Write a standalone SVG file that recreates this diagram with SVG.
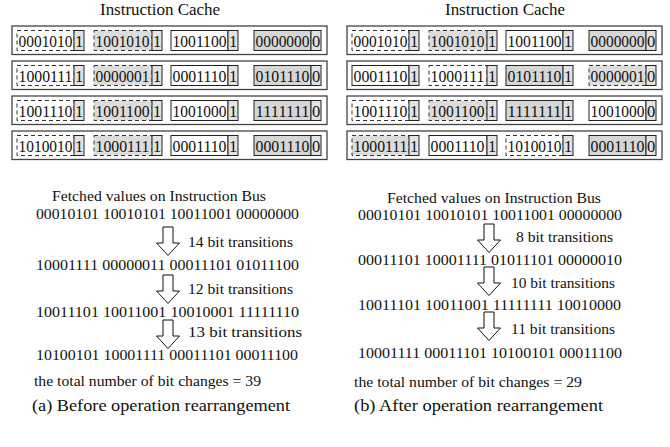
<svg xmlns="http://www.w3.org/2000/svg" width="670" height="447" viewBox="0 0 670 447">
<style>
text{font-family:"Liberation Serif","Times New Roman",serif;fill:#111}
.t{font-size:16px}
.b{font-size:16.5px}
.f{font-size:15px}
.c{font-size:17px}
.row{fill:#fff;stroke:#444;stroke-width:1.3}
.sw{fill:#fff;stroke:#222;stroke-width:1}
.sg{fill:#d6d6d6;stroke:#222;stroke-width:1}
.dw{fill:#fff;stroke:#333;stroke-width:1;stroke-dasharray:4,3}
.dg{fill:#dcdcdc;stroke:#333;stroke-width:1;stroke-dasharray:4,3}
.bit{fill:#e2e2e2;stroke:#222;stroke-width:1}
.arr{fill:#fff;stroke:#111;stroke-width:1}
</style>
<defs>
<path id="ar" d="M-5,0H5V16H11.5L0,28.5L-11.5,16H-5Z"/>
</defs>

<text class="t" x="100" y="15" textLength="120" lengthAdjust="spacingAndGlyphs">Instruction Cache</text>
<text class="t" x="445" y="15" textLength="120" lengthAdjust="spacingAndGlyphs">Instruction Cache</text>

<!-- LEFT PANEL -->
<g id="L-row1" transform="translate(0,26)">
<rect class="row" x="12" y="0" width="315" height="28.5"/>
<rect class="dw" x="17" y="4.5" width="57" height="20"/><rect class="bit" x="74" y="4.5" width="10" height="20"/>
<text class="b" x="18.5" y="20.5" textLength="54" lengthAdjust="spacingAndGlyphs">0001010</text><text class="b" x="75" y="20.5">1</text>
<rect class="dg" x="94" y="4.5" width="58" height="20"/><rect class="bit" x="152" y="4.5" width="10" height="20"/>
<text class="b" x="95.5" y="20.5" textLength="54" lengthAdjust="spacingAndGlyphs">1001010</text><text class="b" x="153" y="20.5">1</text>
<rect class="sw" x="171" y="4.5" width="57" height="20"/><rect class="bit" x="228" y="4.5" width="10" height="20"/>
<text class="b" x="172.5" y="20.5" textLength="54" lengthAdjust="spacingAndGlyphs">1001100</text><text class="b" x="229" y="20.5">1</text>
<rect class="sg" x="254" y="4.5" width="57" height="20"/><rect class="bit" x="311" y="4.5" width="10" height="20"/>
<text class="b" x="255.5" y="20.5" textLength="54" lengthAdjust="spacingAndGlyphs">0000000</text><text class="b" x="312" y="20.5">0</text>
</g>
<g id="L-row2" transform="translate(0,61)">
<rect class="row" x="12" y="0" width="315" height="28.5"/>
<rect class="dw" x="17" y="4.5" width="57" height="20"/><rect class="bit" x="74" y="4.5" width="10" height="20"/>
<text class="b" x="18.5" y="20.5" textLength="54" lengthAdjust="spacingAndGlyphs">1000111</text><text class="b" x="75" y="20.5">1</text>
<rect class="dg" x="94" y="4.5" width="58" height="20"/><rect class="bit" x="152" y="4.5" width="10" height="20"/>
<text class="b" x="95.5" y="20.5" textLength="54" lengthAdjust="spacingAndGlyphs">0000001</text><text class="b" x="153" y="20.5">1</text>
<rect class="sw" x="171" y="4.5" width="57" height="20"/><rect class="bit" x="228" y="4.5" width="10" height="20"/>
<text class="b" x="172.5" y="20.5" textLength="54" lengthAdjust="spacingAndGlyphs">0001110</text><text class="b" x="229" y="20.5">1</text>
<rect class="sg" x="254" y="4.5" width="57" height="20"/><rect class="bit" x="311" y="4.5" width="10" height="20"/>
<text class="b" x="255.5" y="20.5" textLength="54" lengthAdjust="spacingAndGlyphs">0101110</text><text class="b" x="312" y="20.5">0</text>
</g>
<g id="L-row3" transform="translate(0,96)">
<rect class="row" x="12" y="0" width="315" height="28.5"/>
<rect class="dw" x="17" y="4.5" width="57" height="20"/><rect class="bit" x="74" y="4.5" width="10" height="20"/>
<text class="b" x="18.5" y="20.5" textLength="54" lengthAdjust="spacingAndGlyphs">1001110</text><text class="b" x="75" y="20.5">1</text>
<rect class="dg" x="94" y="4.5" width="58" height="20"/><rect class="bit" x="152" y="4.5" width="10" height="20"/>
<text class="b" x="95.5" y="20.5" textLength="54" lengthAdjust="spacingAndGlyphs">1001100</text><text class="b" x="153" y="20.5">1</text>
<rect class="sw" x="171" y="4.5" width="57" height="20"/><rect class="bit" x="228" y="4.5" width="10" height="20"/>
<text class="b" x="172.5" y="20.5" textLength="54" lengthAdjust="spacingAndGlyphs">1001000</text><text class="b" x="229" y="20.5">1</text>
<rect class="sg" x="254" y="4.5" width="57" height="20"/><rect class="bit" x="311" y="4.5" width="10" height="20"/>
<text class="b" x="255.5" y="20.5" textLength="54" lengthAdjust="spacingAndGlyphs">1111111</text><text class="b" x="312" y="20.5">0</text>
</g>
<g id="L-row4" transform="translate(0,131)">
<rect class="row" x="12" y="0" width="315" height="28.5"/>
<rect class="dw" x="17" y="4.5" width="57" height="20"/><rect class="bit" x="74" y="4.5" width="10" height="20"/>
<text class="b" x="18.5" y="20.5" textLength="54" lengthAdjust="spacingAndGlyphs">1010010</text><text class="b" x="75" y="20.5">1</text>
<rect class="dg" x="94" y="4.5" width="58" height="20"/><rect class="bit" x="152" y="4.5" width="10" height="20"/>
<text class="b" x="95.5" y="20.5" textLength="54" lengthAdjust="spacingAndGlyphs">1000111</text><text class="b" x="153" y="20.5">1</text>
<rect class="sw" x="171" y="4.5" width="57" height="20"/><rect class="bit" x="228" y="4.5" width="10" height="20"/>
<text class="b" x="172.5" y="20.5" textLength="54" lengthAdjust="spacingAndGlyphs">0001110</text><text class="b" x="229" y="20.5">1</text>
<rect class="sg" x="254" y="4.5" width="57" height="20"/><rect class="bit" x="311" y="4.5" width="10" height="20"/>
<text class="b" x="255.5" y="20.5" textLength="54" lengthAdjust="spacingAndGlyphs">0001110</text><text class="b" x="312" y="20.5">0</text>
</g>

<!-- RIGHT PANEL -->
<g id="R-row1" transform="translate(335,26)">
<rect class="row" x="12" y="0" width="315" height="28.5"/>
<rect class="dw" x="17" y="4.5" width="57" height="20"/><rect class="bit" x="74" y="4.5" width="10" height="20"/>
<text class="b" x="18.5" y="20.5" textLength="54" lengthAdjust="spacingAndGlyphs">0001010</text><text class="b" x="75" y="20.5">1</text>
<rect class="dg" x="94" y="4.5" width="58" height="20"/><rect class="bit" x="152" y="4.5" width="10" height="20"/>
<text class="b" x="95.5" y="20.5" textLength="54" lengthAdjust="spacingAndGlyphs">1001010</text><text class="b" x="153" y="20.5">1</text>
<rect class="sw" x="171" y="4.5" width="57" height="20"/><rect class="bit" x="228" y="4.5" width="10" height="20"/>
<text class="b" x="172.5" y="20.5" textLength="54" lengthAdjust="spacingAndGlyphs">1001100</text><text class="b" x="229" y="20.5">1</text>
<rect class="sg" x="254" y="4.5" width="57" height="20"/><rect class="bit" x="311" y="4.5" width="10" height="20"/>
<text class="b" x="255.5" y="20.5" textLength="54" lengthAdjust="spacingAndGlyphs">0000000</text><text class="b" x="312" y="20.5">0</text>
</g>
<g id="R-row2" transform="translate(335,61)">
<rect class="row" x="12" y="0" width="315" height="28.5"/>
<rect class="sw" x="17" y="4.5" width="57" height="20"/><rect class="bit" x="74" y="4.5" width="10" height="20"/>
<text class="b" x="18.5" y="20.5" textLength="54" lengthAdjust="spacingAndGlyphs">0001110</text><text class="b" x="75" y="20.5">1</text>
<rect class="dw" x="94" y="4.5" width="58" height="20"/><rect class="bit" x="152" y="4.5" width="10" height="20"/>
<text class="b" x="95.5" y="20.5" textLength="54" lengthAdjust="spacingAndGlyphs">1000111</text><text class="b" x="153" y="20.5">1</text>
<rect class="sg" x="171" y="4.5" width="57" height="20"/><rect class="bit" x="228" y="4.5" width="10" height="20"/>
<text class="b" x="172.5" y="20.5" textLength="54" lengthAdjust="spacingAndGlyphs">0101110</text><text class="b" x="229" y="20.5">1</text>
<rect class="dg" x="254" y="4.5" width="57" height="20"/><rect class="bit" x="311" y="4.5" width="10" height="20"/>
<text class="b" x="255.5" y="20.5" textLength="54" lengthAdjust="spacingAndGlyphs">0000001</text><text class="b" x="312" y="20.5">0</text>
</g>
<g id="R-row3" transform="translate(335,96)">
<rect class="row" x="12" y="0" width="315" height="28.5"/>
<rect class="dw" x="17" y="4.5" width="57" height="20"/><rect class="bit" x="74" y="4.5" width="10" height="20"/>
<text class="b" x="18.5" y="20.5" textLength="54" lengthAdjust="spacingAndGlyphs">1001110</text><text class="b" x="75" y="20.5">1</text>
<rect class="dg" x="94" y="4.5" width="58" height="20"/><rect class="bit" x="152" y="4.5" width="10" height="20"/>
<text class="b" x="95.5" y="20.5" textLength="54" lengthAdjust="spacingAndGlyphs">1001100</text><text class="b" x="153" y="20.5">1</text>
<rect class="sg" x="171" y="4.5" width="57" height="20"/><rect class="bit" x="228" y="4.5" width="10" height="20"/>
<text class="b" x="172.5" y="20.5" textLength="54" lengthAdjust="spacingAndGlyphs">1111111</text><text class="b" x="229" y="20.5">1</text>
<rect class="sw" x="254" y="4.5" width="57" height="20"/><rect class="bit" x="311" y="4.5" width="10" height="20"/>
<text class="b" x="255.5" y="20.5" textLength="54" lengthAdjust="spacingAndGlyphs">1001000</text><text class="b" x="312" y="20.5">0</text>
</g>
<g id="R-row4" transform="translate(335,131)">
<rect class="row" x="12" y="0" width="315" height="28.5"/>
<rect class="dg" x="17" y="4.5" width="57" height="20"/><rect class="bit" x="74" y="4.5" width="10" height="20"/>
<text class="b" x="18.5" y="20.5" textLength="54" lengthAdjust="spacingAndGlyphs">1000111</text><text class="b" x="75" y="20.5">1</text>
<rect class="sw" x="94" y="4.5" width="58" height="20"/><rect class="bit" x="152" y="4.5" width="10" height="20"/>
<text class="b" x="95.5" y="20.5" textLength="54" lengthAdjust="spacingAndGlyphs">0001110</text><text class="b" x="153" y="20.5">1</text>
<rect class="dw" x="171" y="4.5" width="57" height="20"/><rect class="bit" x="228" y="4.5" width="10" height="20"/>
<text class="b" x="172.5" y="20.5" textLength="54" lengthAdjust="spacingAndGlyphs">1010010</text><text class="b" x="229" y="20.5">1</text>
<rect class="sg" x="254" y="4.5" width="57" height="20"/><rect class="bit" x="311" y="4.5" width="10" height="20"/>
<text class="b" x="255.5" y="20.5" textLength="54" lengthAdjust="spacingAndGlyphs">0001110</text><text class="b" x="312" y="20.5">0</text>
</g>

<!-- connectors (transition arrows) -->
<g id="connectors">
<use href="#ar" class="arr" transform="translate(168,227)"/>
<use href="#ar" class="arr" transform="translate(168,275)"/>
<use href="#ar" class="arr" transform="translate(168,320)"/>
<use href="#ar" class="arr" transform="translate(489,224)"/>
<use href="#ar" class="arr" transform="translate(489,267)"/>
<use href="#ar" class="arr" transform="translate(489,312)"/>
</g>

<!-- LEFT bus text -->
<g id="L-bus">
<text class="f" x="52" y="201" textLength="214" lengthAdjust="spacingAndGlyphs">Fetched values on Instruction Bus</text>
<text class="f" x="36" y="219" textLength="263" lengthAdjust="spacingAndGlyphs">00010101 10010101 10011001 00000000</text>
<text class="f" x="188" y="247" textLength="105" lengthAdjust="spacingAndGlyphs">14 bit transitions</text>
<text class="f" x="36" y="270" textLength="263" lengthAdjust="spacingAndGlyphs">10001111 00000011 00011101 01011100</text>
<text class="f" x="188" y="294" textLength="105" lengthAdjust="spacingAndGlyphs">12 bit transitions</text>
<text class="f" x="36" y="317" textLength="263" lengthAdjust="spacingAndGlyphs">10011101 10011001 10010001 11111110</text>
<text class="f" x="188" y="337" textLength="114" lengthAdjust="spacingAndGlyphs">13 bit transitions</text>
<text class="f" x="36" y="360" textLength="262" lengthAdjust="spacingAndGlyphs">10100101 10001111 00011101 00011100</text>
<text class="f" x="34" y="386" textLength="227" lengthAdjust="spacingAndGlyphs">the total number of bit changes = 39</text>
<text class="c" x="32" y="411" textLength="258" lengthAdjust="spacingAndGlyphs">(a) Before operation rearrangement</text>
</g>

<!-- RIGHT bus text -->
<g id="R-bus">
<text class="f" x="387" y="203" textLength="214" lengthAdjust="spacingAndGlyphs">Fetched values on Instruction Bus</text>
<text class="f" x="358" y="220" textLength="264" lengthAdjust="spacingAndGlyphs">00010101 10010101 10011001 00000000</text>
<text class="f" x="516" y="242" textLength="97" lengthAdjust="spacingAndGlyphs">8 bit transitions</text>
<text class="f" x="358" y="265" textLength="264" lengthAdjust="spacingAndGlyphs">00011101 10001111 01011101 00000010</text>
<text class="f" x="511" y="288" textLength="104" lengthAdjust="spacingAndGlyphs">10 bit transitions</text>
<text class="f" x="358" y="310" textLength="263" lengthAdjust="spacingAndGlyphs">10011101 10011001 11111111 10010000</text>
<text class="f" x="511" y="334" textLength="104" lengthAdjust="spacingAndGlyphs">11 bit transitions</text>
<text class="f" x="358" y="358" textLength="264" lengthAdjust="spacingAndGlyphs">10001111 00011101 10100101 00011100</text>
<text class="f" x="354" y="387" textLength="228" lengthAdjust="spacingAndGlyphs">the total number of bit changes = 29</text>
<text class="c" x="354" y="411" textLength="249" lengthAdjust="spacingAndGlyphs">(b) After operation rearrangement</text>
</g>
</svg>
